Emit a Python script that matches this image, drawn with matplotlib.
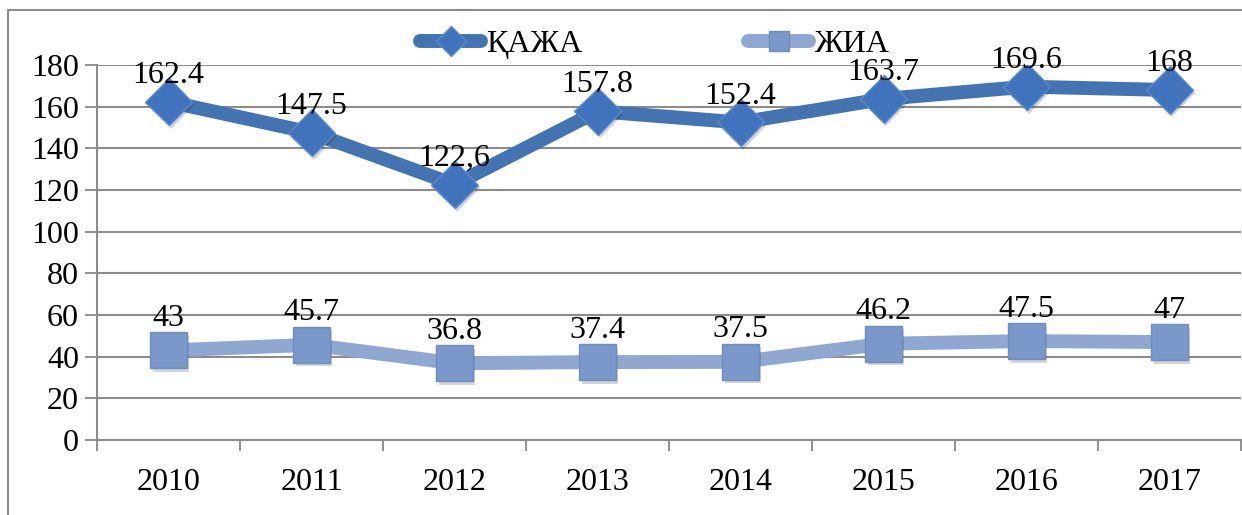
import matplotlib.pyplot as plt
import matplotlib.patheffects as pe
from matplotlib.lines import Line2D
import numpy as np

plt.rcParams['font.family'] = ['Liberation Serif', 'DejaVu Serif']

# Données
annees = ["2010", "2011", "2012", "2013", "2014", "2015", "2016", "2017"]
kazha = [162.4, 147.5, 122.6, 157.8, 152.4, 163.7, 169.6, 168]
zhia = [43, 45.7, 36.8, 37.4, 37.5, 46.2, 47.5, 47]
labels_kazha = ["162.4", "147.5", "122,6", "157.8", "152.4", "163.7", "169.6", "168"]
labels_zhia = ["43", "45.7", "36.8", "37.4", "37.5", "46.2", "47.5", "47"]
yticks = [0, 20, 40, 60, 80, 100, 120, 140, 160, 180]

col_dark = "#4373B0"
col_light = "#8EA8D2"
mk_dark = "#3F74BC"
mk_light = "#7A98C9"
fs = 23

fig = plt.figure(figsize=(12.42, 5.15), dpi=100)
ax = fig.add_axes([97/1242, 75/515, (1241-97)/1242, 375/515])

x = np.arange(len(annees))
shadow = [pe.SimplePatchShadow(offset=(1.5, -2.5), alpha=0.2), pe.Normal()]

ax.plot(x, kazha, color=col_dark, lw=10, solid_joinstyle='round', zorder=3)
ax.plot(x, zhia, color=col_light, lw=10, solid_joinstyle='round', zorder=3)
ax.plot(x, kazha, ls='none', marker='D', ms=24, color=mk_dark,
        markeredgecolor="#5A8AC8", markeredgewidth=1, zorder=4, path_effects=shadow)
ax.plot(x, zhia, ls='none', marker='s', ms=26, color=mk_light,
        markeredgecolor="#6F8DBE", markeredgewidth=1, zorder=4, path_effects=shadow)

for xi, v, t in zip(x, kazha, labels_kazha):
    ax.annotate(t, (xi, v), xytext=(0, 19), textcoords='offset points',
                ha='center', va='center', fontsize=fs, zorder=5)
for xi, v, t in zip(x, zhia, labels_zhia):
    ax.annotate(t, (xi, v), xytext=(0, 23), textcoords='offset points',
                ha='center', va='center', fontsize=fs, zorder=5)

ax.set_xlim(-0.5, len(annees) - 0.5)
ax.set_ylim(0, 180)
ax.set_yticks(yticks)
ax.set_xticks(x)
ax.set_xticklabels(annees)
ax.set_xticks(np.arange(-0.5, len(annees)), minor=True)
ax.tick_params(axis='x', which='major', length=0, pad=20, labelsize=fs)
ax.tick_params(axis='x', which='minor', length=8, width=1.3, color="#888888")
ax.tick_params(axis='y', length=9, width=1.3, color="#888888", labelsize=fs, pad=4)
ax.yaxis.grid(True, color="#8C8C8C", lw=1.5)
ax.set_axisbelow(True)
for s in ['top', 'right']:
    ax.spines[s].set_visible(False)
for s in ['left', 'bottom']:
    ax.spines[s].set_color("#8C8C8C")
    ax.spines[s].set_linewidth(1.5)

# Légende
h1 = Line2D([], [], color=col_dark, lw=10, marker='D', ms=15, markerfacecolor=mk_dark,
            markeredgecolor="#5A8AC8", solid_capstyle='round')
h2 = Line2D([], [], color=col_light, lw=10, marker='s', ms=15, markerfacecolor=mk_light,
            markeredgecolor="#6F8DBE", solid_capstyle='round')
fig.legend([h1, h2], ["ҚАЖА", "ЖИА"], loc='center', bbox_to_anchor=(0.527, 0.913),
           ncol=2, frameon=False, fontsize=fs, handlelength=1.9, handletextpad=0.15,
           columnspacing=5.2)

# Cadre
fig.add_artist(Line2D([8/1242, 8/1242], [0, 1 - 10/515], color="#8C8C8C", lw=1.5,
                      transform=fig.transFigure))
fig.add_artist(Line2D([8/1242, 1], [1 - 10/515, 1 - 10/515], color="#8C8C8C", lw=1.5,
                      transform=fig.transFigure))

fig.savefig("out.png", dpi=100)
